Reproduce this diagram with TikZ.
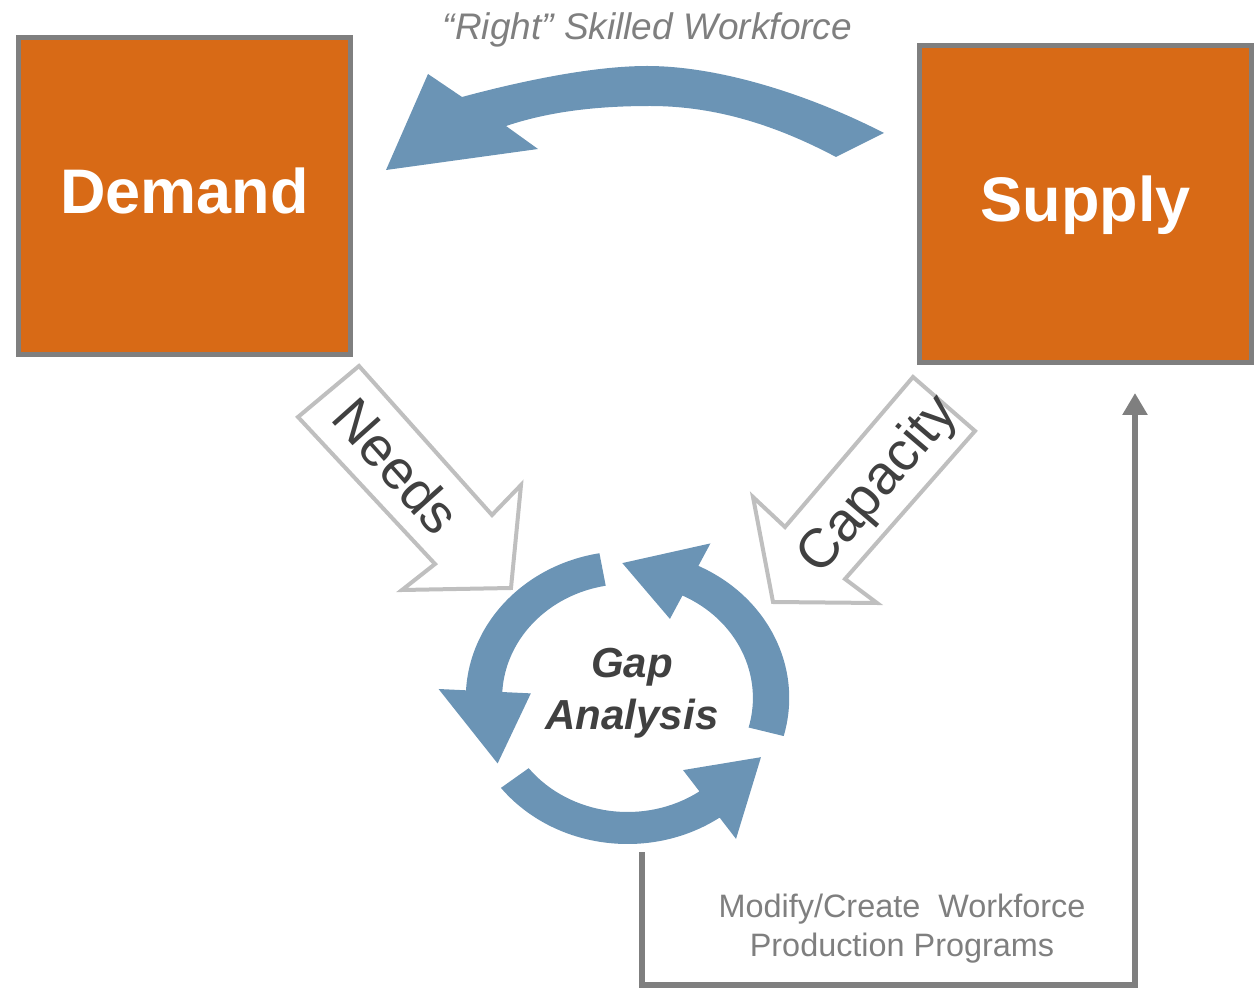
\documentclass[tikz,border=0pt]{standalone}
\usepackage{fontspec}
\setmainfont{Liberation Sans}
\usepackage{tikz}
\usetikzlibrary{arrows.meta,positioning,calc}

\definecolor{boxorange}{RGB}{216,106,22}
\definecolor{boxgray}{RGB}{127,127,127}
\definecolor{cycleblue}{RGB}{107,148,181}
\definecolor{hollowgray}{RGB}{191,191,191}
\definecolor{darktext}{RGB}{64,64,64}

\begin{document}
\begin{tikzpicture}[x=0.5pt,y=-0.5pt,
  big box/.style={rectangle,draw=boxgray,fill=boxorange,line width=2.5pt,
    minimum width=166pt,minimum height=158.5pt,inner sep=0pt,
    text=white,font=\fontsize{31.5}{36}\selectfont\bfseries,
    text height=18pt,text depth=0pt},
  hollow arrow/.style={draw=hollowgray,fill=white,line width=2pt},
  arrow label/.style={text=darktext,font=\fontsize{27.5}{32}\selectfont,inner sep=0pt},
  note/.style={text=boxgray,align=center,inner sep=0pt},
  feedback/.style={draw=boxgray,line width=3pt,-{Triangle[width=12pt,length=11pt]}}]

\useasboundingbox (0,0) rectangle (1254,989);

% the two boxes
\node[big box](D) at (184.5,196) {Demand};
\node[big box](S) at (1085.5,204) {Supply};

% skilled workforce goes back to demand
\fill[cycleblue] (386,170) -- (428,74) -- (462,97)
  .. controls (525,80) and (595,66) .. (647,66)
  .. controls (720,66) and (810,95) .. (884,133) -- (836,157)
  .. controls (770,122) and (710,106) .. (650,106)
  .. controls (590,106) and (545,113) .. (506,126) -- (538,149) -- cycle;
\node[note,anchor=base,font=\fontsize{18.5}{22}\selectfont\itshape](RSW)
  at (647.5,40) {“Right” Skilled Workforce};

% needs and capacity
\draw[hollow arrow] (359,366) -- (492,515) -- (521,485) -- (511,588)
  -- (402,590) -- (435,564) -- (298,417) -- cycle;
\node[arrow label,rotate=-48.2](N) at (397,466) {Needs};
\draw[hollow arrow] (913,377) -- (975,431) -- (845,579) -- (877,603)
  -- (773,602) -- (753,497) -- (785,527) -- cycle;
\node[arrow label,rotate=49.5](C) at (879,486) {Capacity};

% gap analysis cycle
\begin{scope}[shift={(627.5,698)},xscale=1.1]
  \fill[cycleblue] (-100:147) arc[start angle=-100,end angle=-177,radius=147]
    -- (-177:172) -- (-209:135) -- (-177:88) -- (-177:114)
    arc[start angle=-177,end angle=-100,radius=114] -- cycle;
  \fill[cycleblue] (-218:146) arc[start angle=-218,end angle=-305,radius=146]
    -- (-305:172) -- (-334:135) -- (-305:88) -- (-305:114)
    arc[start angle=-305,end angle=-218,radius=114] -- cycle;
  \fill[cycleblue] (15:147) arc[start angle=15,end angle=-64,radius=147]
    -- (-64:172) -- (-92:135) -- (-64:88) -- (-64:114)
    arc[start angle=-64,end angle=15,radius=114] -- cycle;
\end{scope}
\node[text=darktext,font=\fontsize{21}{26}\selectfont\bfseries\itshape,
  align=center,inner sep=0pt](G) at (632,693) {Gap\\Analysis};

% back to supply
\coordinate (fbstart) at (642,852);
\coordinate (fbcorner) at (1135,985);
\coordinate (fbend) at (1135,393);
\draw[feedback] (fbstart) |- (fbcorner) -- (fbend);
\node[note,font=\fontsize{16.2}{19.5}\selectfont](M) at (902,929)
  {Modify/Create\ \ Workforce\\Production Programs};
\end{tikzpicture}
\end{document}
